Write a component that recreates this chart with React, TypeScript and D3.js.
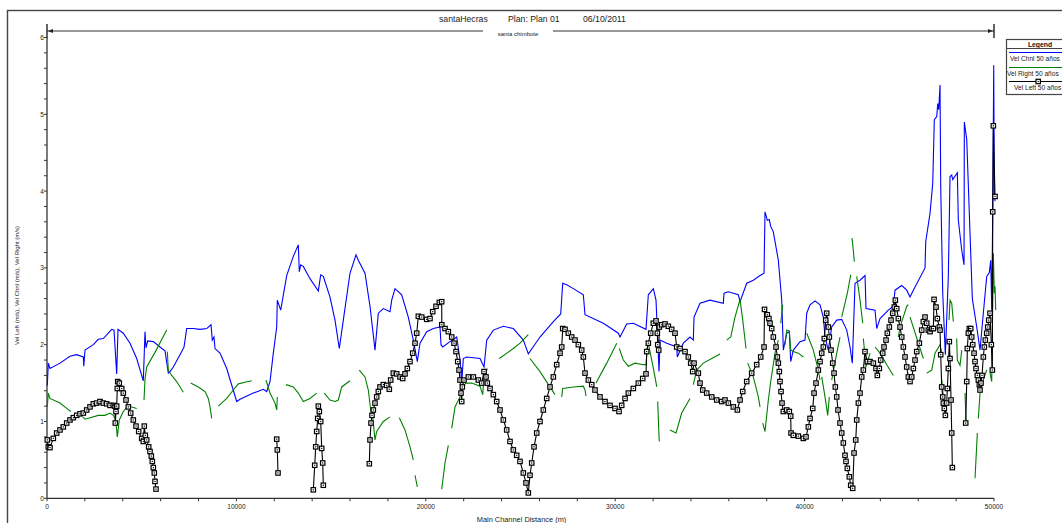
import React, { useEffect, useRef } from 'react';
import * as d3 from 'd3';

type Pt = [number, number] | null;

// main channel distance (m) / velocity (m/s)
const xTickValues = [0, 10000, 20000, 30000, 40000, 50000];
const yTickValues = [0, 1, 2, 3, 4, 5, 6];

const velChnl: Pt[] = [
  [16, 1.47], [69, 1.76], [158, 1.69], [686, 1.76], [1214, 1.85], [1568, 1.87], [1917, 1.84], [1943, 1.72],
  [2006, 1.93], [2445, 2.0], [2709, 2.07], [2973, 2.08], [3416, 2.2], [3538, 2.19], [3680, 1.62], [3749, 2.2],
  [4029, 2.15], [4382, 2.02], [4736, 1.82], [5085, 1.53], [5174, 2.17], [5227, 1.96], [5317, 2.05], [5613, 2.04],
  [5966, 1.97], [6230, 1.92], [6405, 1.63], [6494, 1.65], [6669, 1.71], [7022, 1.87], [7234, 1.97], [7376, 2.21],
  [7725, 2.21], [8078, 2.2], [8432, 2.21], [8659, 2.26], [8728, 2.06], [8818, 2.1], [8870, 1.95], [9134, 1.89],
  [9488, 1.69], [10016, 1.26], [10190, 1.29], [10893, 1.37], [11421, 1.42], [11600, 1.39], [11774, 1.52],
  [11949, 1.89], [12128, 2.23], [12160, 2.58], [12339, 2.45], [12656, 2.9], [13005, 3.15], [13269, 3.3],
  [13321, 2.95], [13395, 3.04], [13533, 3.02], [13886, 2.86], [14325, 2.7], [14451, 2.91], [14589, 2.89],
  [14942, 2.62], [15206, 2.32], [15433, 1.95], [15645, 2.32], [15998, 2.93], [16315, 3.17], [16437, 3.1],
  [16790, 2.93], [17054, 2.5], [17318, 1.93], [17493, 2.41], [17757, 2.47], [18110, 2.43], [18200, 2.58],
  [18374, 2.73], [18728, 2.65], [19076, 2.36], [19340, 2.06], [19552, 1.78], [19694, 2.02], [20048, 2.17],
  [20397, 2.21], [20750, 2.23], [20803, 2.0], [20893, 1.97], [21278, 2.04], [21632, 2.1], [21806, 1.8],
  [21896, 1.5], [21980, 1.82], [22160, 1.84], [22862, 1.82], [23074, 1.71], [23216, 2.06], [23565, 2.19],
  [24093, 2.24], [24621, 2.21], [25149, 2.06], [25413, 1.88], [26030, 2.1], [26733, 2.3], [27123, 2.4],
  [27229, 2.8], [27440, 2.78], [27789, 2.73], [28317, 2.65], [28406, 2.39], [29373, 2.28], [30165, 2.15],
  [30254, 2.1], [30608, 2.27], [30957, 2.28], [31627, 2.2], [31749, 2.65], [32013, 2.73], [32155, 2.58],
  [32245, 2.06], [32314, 1.65], [32366, 2.06], [32720, 2.02], [33248, 1.97], [33280, 1.84], [33597, 2.02],
  [33950, 2.1], [34125, 2.06], [34162, 2.36], [34478, 2.54], [35006, 2.58], [35709, 2.54], [35746, 2.67],
  [35973, 2.69], [36501, 2.65], [36590, 2.56], [36944, 2.8], [37293, 2.84], [37646, 2.9], [37858, 2.93],
  [37910, 3.73], [38031, 3.62], [38137, 3.63], [38211, 3.54], [38349, 3.47], [38613, 3.1], [38792, 2.58],
  [38877, 1.93], [39056, 2.15], [39193, 2.17], [39267, 1.78], [39405, 1.93], [39758, 2.04], [40022, 2.06],
  [40112, 2.41], [40286, 2.52], [40550, 2.57], [40814, 2.52], [40989, 2.36], [41078, 2.1], [41253, 1.93],
  [41432, 2.23], [41696, 2.32], [41960, 2.33], [42224, 2.19], [42398, 1.97], [42520, 1.76], [42662, 2.8],
  [42926, 2.84], [43190, 2.9], [43243, 2.47], [43718, 2.45], [43808, 2.21], [43982, 2.34], [44420, 2.45],
  [44685, 2.5], [44774, 2.71], [45128, 2.77], [45392, 2.71], [45566, 2.62], [45741, 2.71], [46358, 3.0],
  [46395, 3.34], [46622, 3.71], [46765, 4.1], [46849, 4.93], [46976, 4.97], [47029, 5.14], [47082, 5.06],
  [47150, 5.38], [47187, 4.06], [47293, 2.67], [47430, 1.87], [47589, 2.89], [47678, 4.19], [47768, 4.21],
  [47821, 4.15], [48064, 4.24], [48117, 3.62], [48297, 3.23], [48418, 3.04], [48434, 4.9], [48561, 4.67],
  [48734, 3.45], [48856, 2.6], [49088, 2.23], [49262, 1.93], [49436, 2.41], [49616, 2.89], [49753, 2.94],
  [49827, 3.1], [49880, 2.45], [49933, 3.73], [49986, 5.64], [50017, 3.97], [50054, 3.87],
];

const velRight: Pt[] = [
  [16, 1.19], [69, 1.37], [158, 1.3], [686, 1.24], [1040, 1.17], [1251, 1.13], null,
  [1885, 1.06], [2006, 1.03], [2270, 1.05], [2709, 1.08], [3062, 1.08], [3326, 1.11], [3501, 1.08], [3590, 1.04],
  [3643, 0.98], [3712, 0.8], [3817, 1.02], [4029, 1.13], [4293, 1.21], [4472, 1.19], [4736, 1.17], null,
  [5122, 1.28], [5174, 1.55], [5264, 1.71], [5702, 1.9], [6320, 2.19], null,
  [6352, 1.91], [6405, 1.67], [6584, 1.6], [6848, 1.52], [7197, 1.38], null,
  [7587, 1.5], [7989, 1.45], [8342, 1.39], [8517, 1.3], [8606, 1.19], [8696, 1.04], null,
  [9045, 1.2], [9488, 1.3], [9837, 1.41], [10101, 1.49], [10454, 1.51], [10808, 1.53], null,
  [11563, 1.54], [11774, 1.37], [12038, 1.24], [12128, 1.15], [12160, 1.32], null,
  [12619, 1.48], [13005, 1.45], [13269, 1.37], [13533, 1.26], [13886, 1.3], [14240, 1.37], null,
  [14641, 1.37], [14942, 1.28], [15206, 1.26], [15381, 1.28], [15560, 1.45], [15998, 1.53], null,
  [16489, 1.67], [16790, 1.58], [16965, 1.41], [17091, 1.15], [17197, 1.06], [17318, 0.76], [17408, 0.87],
  [17757, 1.0], [18110, 1.06], null,
  [18601, 1.05], [18902, 0.89], [19166, 0.67], [19340, 0.5], null,
  [19430, 0.3], [19552, 0.15], null,
  [20840, 0.12], [21014, 0.46], [21189, 0.69], null,
  [21368, 0.91], [21542, 1.19], [21806, 1.32], [21912, 1.45], [22123, 1.5], [22424, 1.5], [22862, 1.46],
  [23005, 1.35], [23074, 1.58], [23248, 1.69], null,
  [23881, 1.82], [24621, 1.95], [24974, 2.02], [25413, 2.13], null,
  [25502, 1.82], [26030, 1.65], [26822, 1.35], null,
  [27176, 1.32], [27229, 1.43], [27789, 1.45], [28317, 1.46], [28406, 1.41], [28459, 1.33], null,
  [28987, 1.5], [29552, 1.76], [30080, 2.02], null,
  [30217, 1.95], [30429, 1.8], [30693, 1.72], [31046, 1.76], [31485, 1.74], [31627, 1.74], [31696, 1.97],
  [31749, 2.02], [31928, 1.8], [32102, 1.58], [32192, 1.45], null,
  [32245, 1.26], [32298, 0.89], [32329, 0.74], null,
  [32894, 0.89], [33211, 0.85], [33512, 1.11], [33950, 1.3], null,
  [34125, 1.48], [34304, 1.67], [34653, 1.76], [35096, 1.82], [35534, 1.88], null,
  [35888, 2.06], [36099, 2.1], [36326, 2.36], [36590, 2.59], [36733, 2.32], [36907, 1.95], null,
  [36997, 1.76], [37293, 1.58], [37557, 1.32], [37646, 1.19], null,
  [37789, 0.98], [37910, 0.87], [38085, 1.28], [38211, 1.52], [38438, 1.89], [38613, 2.06], null,
  [38739, 2.28], [38845, 2.52], null,
  [38966, 2.0], [39056, 2.19], [39193, 2.18], [39267, 1.93], [39405, 1.91], [39669, 1.89], [39933, 1.84], null,
  [40112, 2.15], [40461, 1.93], [40725, 1.67], [40814, 1.54], null,
  [40904, 1.58], [41078, 1.32], [41221, 1.08], [41305, 1.32], null,
  [41432, 1.54], [41696, 1.89], [41870, 2.1], null,
  [41960, 2.36], [42256, 2.67], [42435, 2.91], null,
  [42504, 3.39], [42573, 3.23], [42625, 3.08], null,
  [42752, 2.89], [42926, 2.58], [43069, 2.28], null,
  [43101, 2.08], [43243, 1.71], [43454, 1.89], null,
  [43718, 1.97], [43982, 1.89], [44336, 1.74], [44685, 1.6], null,
  [44949, 2.1], [45038, 2.23], [45392, 2.5], [45477, 2.52], null,
  [45566, 2.36], [46269, 1.82], null,
  [46448, 1.63], [46712, 1.67], [46886, 1.89], [47150, 2.0], [47240, 1.89], null,
  [47240, 1.54], [47325, 1.32], [47467, 1.11], null,
  [47626, 2.32], [47678, 2.58], [47768, 2.54], [47853, 2.3], null,
  [48030, 2.08], [48064, 1.8], [48206, 1.73], [48297, 1.93], null,
  [48470, 1.37], [48523, 1.02], null,
  [48998, 0.26], [49120, 0.85], null,
  [49173, 1.04], [49262, 1.37], [49436, 1.54], [49616, 1.67], null,
  [49790, 1.63], [49880, 1.52], [49965, 3.19], [50017, 2.67], [50054, 2.76], [50091, 2.45],
];

const velLeft: Pt[] = [
  [16, 0.76], [69, 0.67], [158, 0.66], [333, 0.78], [512, 0.85], [686, 0.89], [861, 0.93], [1040, 0.98],
  [1214, 1.02], [1389, 1.05], [1568, 1.08], [1742, 1.1], [1917, 1.11], [2096, 1.15], [2270, 1.19], [2445, 1.23],
  [2624, 1.24], [2798, 1.26], [2973, 1.24], [3152, 1.23], [3326, 1.21], [3501, 1.21], [3590, 1.2], [3606, 0.98],
  [3643, 1.13], [3680, 1.2], [3712, 1.43], [3733, 1.52], [3817, 1.5], [3944, 1.43], [4029, 1.37], [4171, 1.28],
  [4293, 1.19], [4419, 1.11], [4557, 1.02], [4699, 0.94], [4842, 0.87], [5000, 0.78], [5085, 0.74], [5137, 0.94],
  [5190, 0.82], [5264, 0.76], [5370, 0.67], [5438, 0.61], [5507, 0.55], [5560, 0.48], [5613, 0.4], [5665, 0.33],
  [5702, 0.22], [5755, 0.12], null,
  [12128, 0.77], [12160, 0.63], [12197, 0.33], null,
  [14061, 0.11], [14135, 0.43], [14188, 0.67], [14240, 0.87], [14293, 1.04], [14325, 1.2], [14378, 1.13],
  [14451, 1.0], [14504, 0.65], [14557, 0.46], [14589, 0.17], null,
  [17017, 0.45], [17054, 0.76], [17107, 0.98], [17160, 1.08], [17229, 1.15], [17318, 1.24], [17408, 1.32],
  [17493, 1.39], [17582, 1.45], [17757, 1.48], [17936, 1.47], [18073, 1.42], [18147, 1.54], [18285, 1.63],
  [18464, 1.62], [18638, 1.58], [18781, 1.56], [18902, 1.62], [19024, 1.69], [19166, 1.78], [19309, 1.89],
  [19430, 2.02], [19520, 2.15], [19605, 2.37], [19784, 2.36], [20048, 2.33], [20222, 2.34], [20365, 2.43],
  [20539, 2.5], [20713, 2.55], [20840, 2.56], [20845, 2.26], [21014, 2.21], [21189, 2.17], [21368, 2.1],
  [21490, 2.02], [21595, 1.91], [21685, 1.78], [21754, 1.67], [21806, 1.54], [21859, 1.37], [21896, 1.26],
  [21928, 1.45], [22018, 1.54], [22244, 1.58], [22509, 1.58], [22773, 1.54], [22952, 1.5], [23074, 1.65],
  [23179, 1.58], [23248, 1.5], [23390, 1.43], [23565, 1.35], [23744, 1.26], [23918, 1.15], [24093, 1.02],
  [24272, 0.89], [24446, 0.74], [24621, 0.63], [24800, 0.56], [24974, 0.48], [25149, 0.33], [25291, 0.2],
  [25413, 0.07], [25502, 0.3], [25592, 0.46], [25714, 0.67], [25856, 0.85], [26030, 1.0], [26204, 1.15],
  [26384, 1.3], [26558, 1.45], [26733, 1.58], [26912, 1.74], [27086, 1.89], [27176, 1.97], [27229, 2.21],
  [27350, 2.2], [27525, 2.15], [27704, 2.1], [27878, 2.06], [28053, 2.0], [28232, 1.93], [28317, 1.84],
  [28406, 1.63], [28582, 1.54], [28760, 1.48], [28934, 1.41], [29198, 1.32], [29462, 1.26], [29726, 1.21],
  [29990, 1.17], [30202, 1.13], [30344, 1.21], [30518, 1.3], [30693, 1.37], [30957, 1.43], [31221, 1.5],
  [31453, 1.56], [31627, 1.62], [31664, 1.91], [31749, 2.02], [31875, 2.15], [32013, 2.28], [32155, 2.31],
  [32224, 2.15], [32245, 2.0], [32298, 1.93], [32329, 2.23], [32456, 2.26], [32630, 2.27], [32805, 2.24],
  [32984, 2.2], [33158, 2.15], [33248, 1.97], [33422, 1.95], [33686, 1.91], [33860, 1.84], [33987, 1.76],
  [34093, 1.65], [34162, 1.76], [34389, 1.63], [34478, 1.5], [34622, 1.41], [34832, 1.37], [35096, 1.32],
  [35360, 1.28], [35624, 1.26], [35798, 1.28], [35973, 1.24], [36237, 1.19], [36448, 1.15], [36590, 1.28],
  [36733, 1.39], [36944, 1.52], [37208, 1.63], [37472, 1.74], [37683, 1.84], [37858, 1.97], [37884, 2.46],
  [38031, 2.39], [38116, 2.34], [38174, 2.28], [38264, 2.21], [38349, 2.1], [38491, 1.97], [38560, 1.84],
  [38613, 1.76], [38665, 1.65], [38702, 1.52], [38755, 1.39], [38808, 1.24], [38877, 1.13], [39056, 1.15],
  [39193, 1.13], [39267, 1.07], [39283, 0.85], [39405, 0.82], [39669, 0.81], [39933, 0.78], [40075, 0.8],
  [40197, 0.93], [40286, 1.04], [40429, 1.17], [40498, 1.37], [40603, 1.5], [40725, 1.67], [40814, 1.78],
  [40904, 1.89], [40989, 1.97], [41041, 2.08], [41115, 2.32], [41168, 2.41], [41253, 2.23], [41305, 2.1],
  [41395, 1.93], [41485, 1.76], [41554, 1.63], [41622, 1.45], [41696, 1.32], [41765, 1.15], [41870, 0.98],
  [41960, 0.85], [42045, 0.72], [42134, 0.56], [42187, 0.48], [42256, 0.39], [42361, 0.28], [42435, 0.17],
  [42541, 0.13], [42610, 0.59], [42700, 0.76], [42752, 1.02], [42839, 1.24], [42926, 1.37], [43016, 1.58],
  [43101, 1.67], [43190, 1.91], [43311, 1.78], [43454, 1.78], [43629, 1.76], [43771, 1.69], [43840, 1.6],
  [43945, 1.69], [44019, 1.8], [44125, 1.89], [44194, 1.97], [44299, 2.06], [44368, 2.15], [44473, 2.23],
  [44563, 2.32], [44653, 2.41], [44737, 2.49], [44790, 2.58], [44864, 2.47], [44949, 2.34], [45038, 2.23],
  [45128, 2.1], [45213, 1.97], [45302, 1.84], [45392, 1.71], [45477, 1.58], [45566, 1.52], [45656, 1.58],
  [45741, 1.69], [45830, 1.8], [45920, 1.91], [46057, 2.02], [46184, 2.19], [46269, 2.3], [46358, 2.36],
  [46448, 2.28], [46533, 2.19], [46622, 2.17], [46712, 2.21], [46797, 2.21], [46834, 2.59], [46939, 2.49],
  [47008, 2.34], [47113, 2.23], [47150, 2.19], [47187, 1.87], [47240, 1.45], [47293, 1.32], [47325, 1.24],
  [47377, 1.17], [47430, 1.08], [47504, 1.24], [47536, 1.43], [47589, 1.69], [47641, 2.04], [47678, 1.82],
  [47731, 1.28], [47768, 0.85], [47800, 0.4], null,
  [48507, 0.98], [48560, 1.52], [48592, 1.95], [48645, 2.15], [48697, 2.21], [48771, 2.21], [48824, 2.1],
  [48877, 2.0], [48946, 1.89], [48998, 1.78], [49051, 1.69], [49120, 1.6], [49173, 1.54], [49226, 1.48],
  [49262, 1.41], [49315, 1.5], [49368, 1.6], [49436, 1.84], [49489, 1.97], [49542, 2.06], [49616, 2.15],
  [49669, 2.23], [49722, 2.32], [49790, 2.41], [49859, 2.0], [49912, 1.67], [49933, 3.73], [49965, 4.85],
  [50054, 3.93],
];

const legendItems = ['Vel Chnl 50 años', 'Vel Right 50 años', 'Vel Left 50 años'];

const FONT = 'Liberation Sans, Arial, sans-serif';

const App: React.FC = () => {
  const svgRef = useRef<SVGSVGElement>(null);

  useEffect(() => {
    const svg = d3.select(svgRef.current);
    svg.selectAll('*').remove();

    const x = d3.scaleLinear().domain([0, 50000]).range([47, 994]);
    const y = d3.scaleLinear().domain([0, 6]).range([498.3, 37.5]);

    // outer frame
    svg.append('rect')
      .attr('x', 7.5).attr('y', 10.5)
      .attr('width', 1100).attr('height', 600)
      .attr('fill', 'none').attr('stroke', '#444').attr('stroke-width', 1.4);

    // title
    const title = svg.append('g').style('font-family', FONT).style('font-size', '8.7px').attr('fill', '#222');
    title.append('text').attr('x', 439).attr('y', 22).text('santaHecras');
    title.append('text').attr('x', 508).attr('y', 22).text('Plan: Plan 01');
    title.append('text').attr('x', 583).attr('y', 22).text('06/10/2011');

    // reach arrow
    const reachY = 31;
    svg.append('line').attr('x1', 47).attr('x2', 483).attr('y1', reachY).attr('y2', reachY)
      .attr('stroke', '#333').attr('stroke-width', 1.2);
    svg.append('line').attr('x1', 553).attr('x2', 994).attr('y1', reachY).attr('y2', reachY)
      .attr('stroke', '#333').attr('stroke-width', 1.2);
    svg.append('path').attr('d', `M48,${reachY} l5,-2 l0,4 z`).attr('fill', '#222');
    svg.append('path').attr('d', `M993,${reachY} l-5,-2 l0,4 z`).attr('fill', '#222');
    svg.append('line').attr('x1', 994).attr('x2', 994).attr('y1', 24).attr('y2', 38)
      .attr('stroke', '#222').attr('stroke-width', 1.4);
    svg.append('line').attr('x1', 47).attr('x2', 47).attr('y1', 24).attr('y2', 38)
      .attr('stroke', '#222').attr('stroke-width', 1.4);
    svg.append('text').attr('x', 518).attr('y', 35.5).attr('text-anchor', 'middle')
      .style('font-family', FONT).style('font-size', '6px').attr('fill', '#222')
      .text('santa chimbote');

    // axes
    const axisColor = '#333';
    svg.append('line').attr('x1', 47).attr('x2', 47).attr('y1', y(6)).attr('y2', y(0))
      .attr('stroke', axisColor).attr('stroke-width', 1.3);
    svg.append('line').attr('x1', 47).attr('x2', x(50000)).attr('y1', y(0)).attr('y2', y(0))
      .attr('stroke', axisColor).attr('stroke-width', 1.3);

    const xMinor = d3.range(0, 50001, 2000);
    svg.append('g').selectAll('line').data(xMinor).enter().append('line')
      .attr('x1', d => x(d)).attr('x2', d => x(d))
      .attr('y1', y(0)).attr('y2', y(0) + 3)
      .attr('stroke', axisColor).attr('stroke-width', 1);
    svg.append('g').selectAll('text').data(xTickValues).enter().append('text')
      .attr('x', d => x(d)).attr('y', 508.5).attr('text-anchor', 'middle')
      .style('font-family', FONT).style('font-size', '6.6px').attr('fill', '#222')
      .text(d => String(d));

    const yMinor = d3.range(0, 30.5, 1).map(i => i / 5);
    svg.append('g').selectAll('line').data(yMinor).enter().append('line')
      .attr('x1', 44).attr('x2', 47)
      .attr('y1', d => y(d)).attr('y2', d => y(d))
      .attr('stroke', axisColor).attr('stroke-width', 1);
    svg.append('g').selectAll('text').data(yTickValues).enter().append('text')
      .attr('x', 44).attr('y', d => y(d) + 2.4).attr('text-anchor', 'end')
      .style('font-family', FONT).style('font-size', '6.6px').attr('fill', '#222')
      .text(d => String(d));

    svg.append('text')
      .attr('transform', 'translate(18.5,345) rotate(-90)')
      .style('font-family', FONT).style('font-size', '6px').attr('fill', '#222')
      .text('Vel Left (m/s), Vel Chnl (m/s), Vel Right (m/s)');
    svg.append('text').attr('x', 521.5).attr('y', 522).attr('text-anchor', 'middle')
      .style('font-family', FONT).style('font-size', '7.4px').attr('fill', '#222')
      .text('Main Channel Distance (m)');

    // series
    const line = d3.line<Pt>()
      .defined(d => d !== null)
      .x(d => x((d as [number, number])[0]))
      .y(d => y((d as [number, number])[1]));

    svg.append('path').datum(velChnl).attr('d', line)
      .attr('fill', 'none').attr('stroke', '#0000ff').attr('stroke-width', 1.1);
    svg.append('path').datum(velRight).attr('d', line)
      .attr('fill', 'none').attr('stroke', '#008000').attr('stroke-width', 1.1);
    svg.append('path').datum(velLeft).attr('d', line)
      .attr('fill', 'none').attr('stroke', '#000').attr('stroke-width', 1.1);

    const leftPts = velLeft.filter(d => d !== null) as [number, number][];
    const marks = svg.append('g');
    marks.selectAll('rect.box').data(leftPts).enter().append('rect')
      .attr('class', 'box')
      .attr('x', d => x(d[0]) - 2.2).attr('y', d => y(d[1]) - 2.2)
      .attr('width', 4.4).attr('height', 4.4)
      .attr('fill', '#fff').attr('stroke', '#000').attr('stroke-width', 1.2);
    marks.selectAll('rect.dot').data(leftPts).enter().append('rect')
      .attr('class', 'dot')
      .attr('x', d => x(d[0]) - 0.6).attr('y', d => y(d[1]) - 0.6)
      .attr('width', 1.2).attr('height', 1.2)
      .attr('fill', '#000');

    // legend
    const lg = svg.append('g').style('font-family', FONT);
    lg.append('rect').attr('x', 1006.5).attr('y', 39.5).attr('width', 80).attr('height', 55)
      .attr('fill', '#fff').attr('stroke', '#444').attr('stroke-width', 1.2);
    lg.append('text').attr('x', 1040).attr('y', 46.8).attr('text-anchor', 'middle')
      .style('font-size', '6.8px').style('font-weight', 'bold').attr('fill', '#111').text('Legend');
    lg.append('line').attr('x1', 1006.5).attr('x2', 1090).attr('y1', 48.5).attr('y2', 48.5)
      .attr('stroke', '#444').attr('stroke-width', 1);

    const rowColors = ['#0000ff', '#008000', '#000'];
    const rowLineY = [52.5, 67.5, 81.5];
    const rowTextX = [1010, 1007, 1014];
    const rowTextY = [61, 76, 90];
    legendItems.forEach((label, i) => {
      lg.append('line').attr('x1', 1009).attr('x2', 1090)
        .attr('y1', rowLineY[i]).attr('y2', rowLineY[i])
        .attr('stroke', rowColors[i]).attr('stroke-width', 1.1);
      lg.append('text').attr('x', rowTextX[i]).attr('y', rowTextY[i])
        .style('font-size', '6.6px').attr('fill', '#222').text(label);
    });
    lg.append('rect').attr('x', 1036).attr('y', rowLineY[2] - 2.2).attr('width', 4.4).attr('height', 4.4)
      .attr('fill', '#fff').attr('stroke', '#000').attr('stroke-width', 1.2);
    lg.append('rect').attr('x', 1037.6).attr('y', rowLineY[2] - 0.6).attr('width', 1.2).attr('height', 1.2)
      .attr('fill', '#000');
  }, []);

  return (
    <svg
      ref={svgRef}
      width={1062}
      height={523}
      style={{ position: 'absolute', left: 0, top: 0, background: '#fff' }}
    />
  );
};

export default App;
